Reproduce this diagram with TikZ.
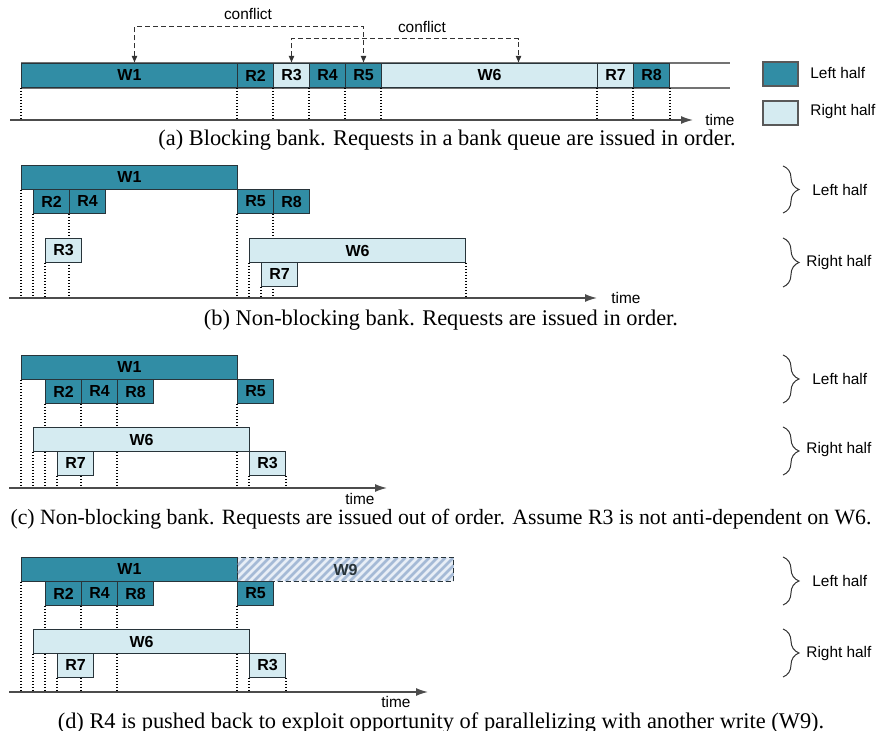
\documentclass[tikz,border=0pt]{standalone}
\usepackage{fontspec}
\setmainfont{Liberation Serif}
\setsansfont{Liberation Sans}
\usetikzlibrary{arrows.meta,decorations.pathreplacing}

\definecolor{lefthalf}{RGB}{49,141,165}
\definecolor{righthalf}{RGB}{213,235,241}
\definecolor{boxline}{RGB}{40,52,58}
\definecolor{hatchbg}{RGB}{232,238,246}
\definecolor{hatchln}{RGB}{165,186,214}

\pgfdeclarelayer{bg}
\pgfsetlayers{bg,main}

\tikzset{
  req/.style={draw=boxline, line width=0.5pt, minimum height=12pt, inner sep=0pt,
    anchor=north west, font=\sffamily\bfseries\fontsize{8}{9}\selectfont},
  lft/.style={req, fill=lefthalf},
  rgt/.style={req, fill=righthalf},
  wbox/.style={minimum width=108pt},
  rbox/.style={minimum width=18pt},
  hatched/.style={req, wbox, dash pattern=on 2.5pt off 1.5pt, text=boxline, fill=hatchbg,
    path picture={
      \foreach \k in {-3,...,27}
        \draw[hatchln, line width=1.4pt, solid]
          ([xshift=\k*4pt]path picture bounding box.south west) -- ++(12pt,12pt);
    }},
  lbl/.style={font=\sffamily\fontsize{7.7}{9}\selectfont, inner sep=0pt},
  captxt/.style={font=\fontsize{11.2}{13}\selectfont, inner sep=0pt},
  timeline/.style={black!70, line width=0.7pt, -{Latex[length=6pt,width=4pt]}},
  guide/.style={black, line width=0.6pt, dash pattern=on 0.7pt off 0.8pt},
  barline/.style={black!55, line width=0.7pt},
  conflict/.style={black!80, line width=0.5pt, dash pattern=on 2.5pt off 1.5pt,
    {Latex[length=3.5pt,width=3pt]}-{Latex[length=3.5pt,width=3pt]}},
  brc/.style={black!80, line width=0.5pt, decorate, decoration={brace, amplitude=8pt}},
}

\begin{document}
\begin{tikzpicture}[x=0.5pt,y=-0.5pt]
  \useasboundingbox (0,0) rectangle (880,731);

  % (a) blocking bank
  \node[lft,wbox] (W1a) at (21,63) {W1};
  \node[lft,rbox] (R2a) at (237,63) {R2};
  \node[rgt,rbox] (R3a) at (273,63) {R3};
  \node[lft,rbox] (R4a) at (309,63) {R4};
  \node[lft,rbox] (R5a) at (345,63) {R5};
  \node[rgt,wbox] (W6a) at (381,63) {W6};
  \node[rgt,rbox] (R7a) at (597,63) {R7};
  \node[lft,rbox] (R8a) at (633,63) {R8};
  \coordinate (aend) at (730,75);
  \coordinate (ta0) at (10,120);
  \coordinate (ta1) at (693,120);
  \begin{pgfonlayer}{bg}
    \draw[barline] (W1a.north west) -- (W1a.north west -| aend);
    \draw[barline] (W1a.south west) -- (W1a.south west -| aend);
    \foreach \p in {W1a.south west, R2a.south west, R3a.south west, R4a.south west,
                    R5a.south west, W6a.south west, R7a.south west, R8a.south west, R8a.south east}
      \draw[guide] (\p) -- (\p |- ta0);
  \end{pgfonlayer}
  \draw[timeline] (ta0) -- (ta1);
  \node[lbl, anchor=west, xshift=6pt] (timea) at (ta1) {time};

  \draw[conflict] ([xshift=2.5pt]W1a.north) |- ([yshift=18pt]R5a.north) -- (R5a.north);
  \draw[conflict] (R3a.north) |- ([xshift=14.5pt,yshift=12pt]W6a.north) -- ([xshift=14.5pt]W6a.north);
  \node[lbl] (cf1) at (248,14) {conflict};
  \node[lbl] (cf2) at (422,27) {conflict};

  \node[lft, minimum width=17.5pt, draw=black!65, line width=0.8pt] (keyl) at (762,61) {};
  \node[rgt, minimum width=17.5pt, draw=black!65, line width=0.8pt] (keyr) at (762,100) {};
  \node[lbl, anchor=west] (keyltxt) at (810,73) {Left half};
  \node[lbl, anchor=west] (keyrtxt) at (810,112) {Right half};

  \node[captxt] (capa) at (447,140) {(a) Blocking bank. Requests in a bank queue are issued in order.};

  % (b) non-blocking, in order
  \node[lft,wbox] (W1b) at (21,165) {W1};
  \node[lft,rbox] (R2b) at (33,189) {R2};
  \node[lft,rbox] (R4b) at (69,189) {R4};
  \node[lft,rbox] (R5b) at (237,189) {R5};
  \node[lft,rbox] (R8b) at (273,189) {R8};
  \node[rgt,rbox] (R3b) at (45,238) {R3};
  \node[rgt,wbox] (W6b) at (249,238) {W6};
  \node[rgt,rbox] (R7b) at (261,262) {R7};
  \coordinate (tb0) at (9,298);
  \coordinate (tb1) at (597,298);
  \begin{pgfonlayer}{bg}
    \foreach \p in {W1b.south west, R2b.south west, R3b.south west, R4b.south west,
                    R5b.south west, W6b.south west, R7b.south west, R8b.south west, W6b.south east}
      \draw[guide] (\p) -- (\p |- tb0);
  \end{pgfonlayer}
  \draw[timeline] (tb0) -- (tb1);
  \node[lbl, anchor=west, xshift=7pt] (timeb) at (tb1) {time};
  \draw[brc] (783,166) -- (783,213);
  \draw[brc] (783,238) -- (783,287);
  \node[lbl, anchor=west] (hlb) at (812,190) {Left half};
  \node[lbl, anchor=west] (hrb) at (806,263) {Right half};
  \node[captxt] (capb) at (441,320) {(b) Non-blocking bank. Requests are issued in order.};

  % (c) non-blocking, out of order
  \node[lft,wbox] (W1c) at (21,355) {W1};
  \node[lft,rbox] (R2c) at (45,379) {R2};
  \node[lft,rbox] (R4c) at (81,379) {R4};
  \node[lft,rbox] (R8c) at (117,379) {R8};
  \node[lft,rbox] (R5c) at (237,379) {R5};
  \node[rgt,wbox] (W6c) at (33,427) {W6};
  \node[rgt,rbox] (R7c) at (57,451) {R7};
  \node[rgt,rbox] (R3c) at (249,451) {R3};
  \coordinate (tc0) at (9,488);
  \coordinate (tc1) at (387,488);
  \begin{pgfonlayer}{bg}
    \foreach \p in {W1c.south west, W6c.south west, R2c.south west, R7c.south west, R4c.south west,
                    R8c.south west, R5c.south west, R3c.south west, R3c.south east}
      \draw[guide] (\p) -- (\p |- tc0);
  \end{pgfonlayer}
  \draw[timeline] (tc0) -- (tc1);
  \node[lbl] (timec) at (360,499) {time};
  \draw[brc] (783,355) -- (783,403);
  \draw[brc] (783,427) -- (783,475);
  \node[lbl, anchor=west] (hlc) at (812,379) {Left half};
  \node[lbl, anchor=west] (hrc) at (806,450) {Right half};
  \node[captxt, font=\fontsize{10.9}{13}\selectfont] (capc) at (441,519) {(c) Non-blocking bank. Requests are issued out of order. Assume R3 is not anti-dependent on W6.};

  % (d) pushing R4 back for W9
  \node[lft,wbox] (W1d) at (21,557) {W1};
  \node[hatched] (W9d) at (237,557) {W9};
  \node[lft,rbox] (R2d) at (45,581) {R2};
  \node[lft,rbox] (R4d) at (81,581) {R4};
  \node[lft,rbox] (R8d) at (117,581) {R8};
  \node[lft,rbox] (R5d) at (237,581) {R5};
  \node[rgt,wbox] (W6d) at (33,629) {W6};
  \node[rgt,rbox] (R7d) at (57,653) {R7};
  \node[rgt,rbox] (R3d) at (249,653) {R3};
  \coordinate (td0) at (9,692);
  \coordinate (td1) at (428,692);
  \begin{pgfonlayer}{bg}
    \foreach \p in {W1d.south west, W6d.south west, R2d.south west, R7d.south west, R4d.south west,
                    R8d.south west, R5d.south west, R3d.south west, R3d.south east}
      \draw[guide] (\p) -- (\p |- td0);
  \end{pgfonlayer}
  \draw[timeline] (td0) -- (td1);
  \node[lbl] (timed) at (396,702) {time};
  \draw[brc] (783,557) -- (783,605);
  \draw[brc] (783,629) -- (783,677);
  \node[lbl, anchor=west] (hld) at (812,581) {Left half};
  \node[lbl, anchor=west] (hrd) at (806,654) {Right half};
  \node[captxt] (capd) at (441,723) {(d) R4 is pushed back to exploit opportunity of parallelizing with another write (W9).};
\end{tikzpicture}
\end{document}
